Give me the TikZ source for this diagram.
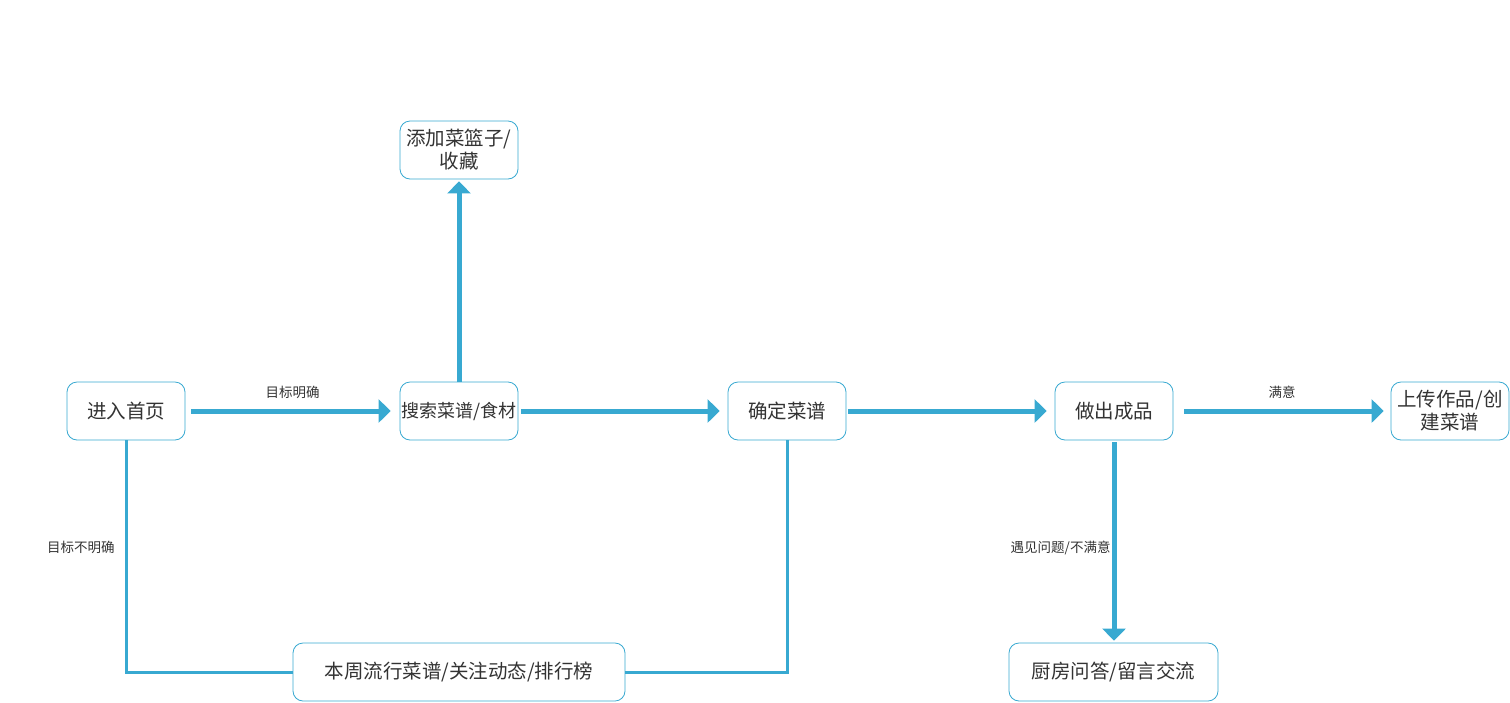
\documentclass[tikz,border=0pt]{standalone}
\usepackage{fontspec}
\setmainfont{Noto Sans CJK SC}
\usetikzlibrary{arrows.meta}
\definecolor{flowblue}{HTML}{38A9D1}
\definecolor{textgray}{HTML}{333333}
\tikzset{
  stepbox/.style = {draw=flowblue, line width=0.8pt, rounded corners=10pt, fill=white,
    text width=118pt, minimum height=58pt, inner sep=0pt, align=center,
    font=\fontsize{19.5}{23}\selectfont, text=textgray},
  flow/.style = {draw=flowblue, line width=5pt, -{Triangle[length=12pt,width=23pt]}},
  link/.style = {draw=flowblue, line width=3pt},
  tag/.style = {font=\fontsize{13.5}{15}\selectfont, text=textgray, inner sep=1pt}
}
\begin{document}
\begin{tikzpicture}[x=1pt,y=-1pt]
\useasboundingbox (0,0) rectangle (1510,702);
% steps
\node[stepbox] (home)   at (126,411)  {进入首页};
\node[stepbox, font=\fontsize{18}{23}\selectfont] (search) at (459,411) {搜索菜谱/食材};
\node[stepbox] (basket) at (459,150)  {添加菜篮子/\\收藏};
\node[stepbox] (pick)   at (787,411)  {确定菜谱};
\node[stepbox] (cook)   at (1114,411) {做出成品};
\node[stepbox] (upload) at (1450,411) {上传作品/创\\建菜谱};
\node[stepbox, text width=332pt] (hot) at (459,672) {本周流行菜谱/关注动态/排行榜};
\node[stepbox, text width=209pt] (ask) at (1113.5,672) {厨房问答/留言交流};
% arrows
\draw[flow, shorten <=6pt, shorten >=9pt] (home) -- (search)
  node[tag, midway, above=9pt] {目标明确};
\draw[flow, shorten >=2pt] (search) -- (basket);
\draw[flow, shorten <=3pt, shorten >=8pt] (search) -- (pick);
\draw[flow, shorten <=2pt, shorten >=8pt] (pick) -- (cook);
\draw[flow, shorten <=11pt, shorten >=7pt] (cook) -- (upload)
  node[tag, midway, above=9pt] {满意};
\draw[flow, shorten <=2pt, shorten >=2pt] (cook.south) -- (cook.south |- ask.north)
  node[tag, pos=0.53, left=0pt] {遇见问题/不满意};
% side routes
\draw[link] (home.south) |- (hot.west)
  node[tag, pos=0.23, left=9pt] {目标不明确};
\draw[link] (pick.south) |- (hot.east);
\end{tikzpicture}
\end{document}
